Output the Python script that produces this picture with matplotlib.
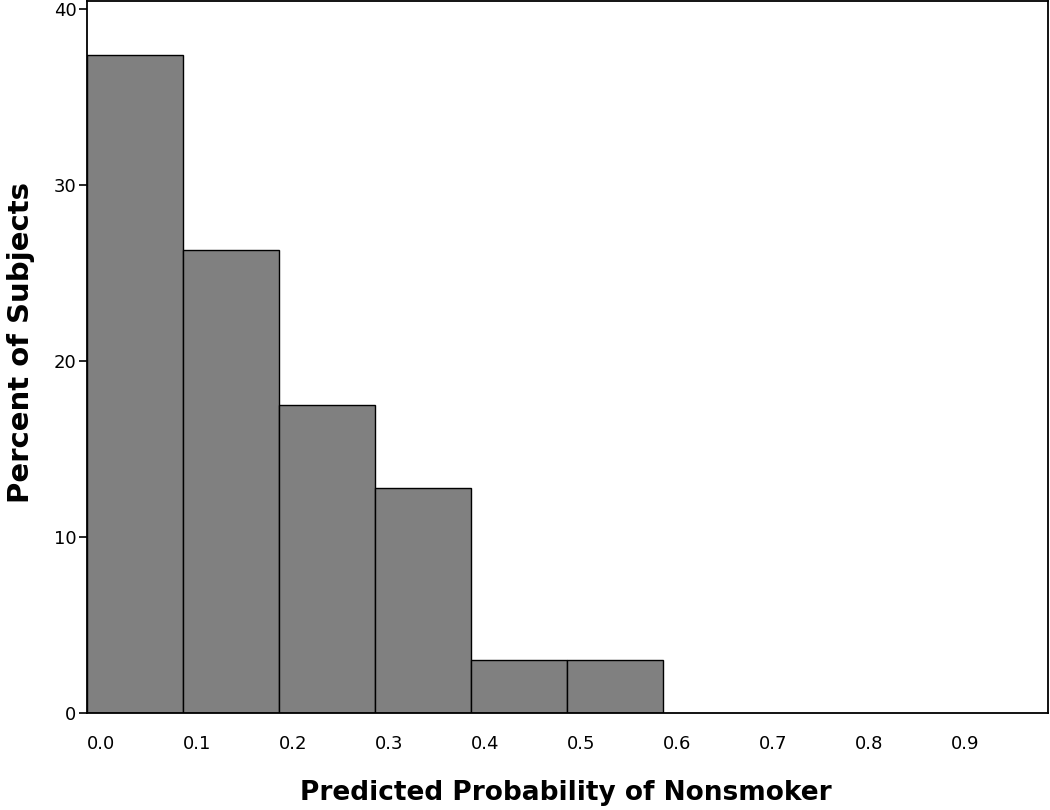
import matplotlib.pyplot as plt
import numpy as np

# histogram of predicted probability
bin_left = [0.0, 0.1, 0.2, 0.3, 0.4, 0.5]
percent = [37.4, 26.3, 17.5, 12.8, 3.0, 3.0]
xtick_vals = [0.0, 0.1, 0.2, 0.3, 0.4, 0.5, 0.6, 0.7, 0.8, 0.9]
xtick_labels = ['0.0', '0.1', '0.2', '0.3', '0.4', '0.5', '0.6', '0.7', '0.8', '0.9']
ytick_vals = [0, 10, 20, 30, 40]


def main():
    plt.rcParams['font.family'] = ['DejaVu Sans']

    fig = plt.figure(figsize=(10.5, 8.1), dpi=100)
    ax = fig.add_axes([87 / 1050, 97 / 810, 961 / 1050, 712 / 810])

    ax.bar(bin_left, percent, width=0.1, align='edge',
           color='#808080', edgecolor='black', linewidth=1.0)

    ax.set_xlim(0, 1.001)
    ax.set_ylim(0, 40.45)

    ax.set_xticks(xtick_vals)
    ax.set_xticklabels(xtick_labels, ha='left', fontsize=13)
    ax.tick_params(axis='x', length=0, pad=16)

    ax.set_yticks(ytick_vals)
    ax.set_yticklabels([str(v) for v in ytick_vals], fontsize=13)
    ax.tick_params(axis='y', length=5.5, width=1.2, pad=2, direction='out')

    for s in ax.spines.values():
        s.set_linewidth(1.3)

    # axis titles placed explicitly (pixel positions from the reference)
    fig.text(566 / 1050, 1 - 793 / 810, 'Predicted Probability of Nonsmoker',
             fontsize=19, fontweight='bold', ha='center', va='center')
    fig.text(21 / 1050, 1 - 343 / 810, 'Percent of Subjects',
             fontsize=21, fontweight='bold', ha='center', va='center',
             rotation=90)

    fig.savefig('out.png', dpi=100)


if __name__ == "__main__":
    main()
